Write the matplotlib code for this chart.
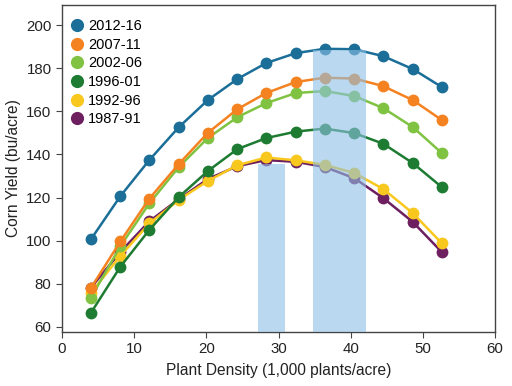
import matplotlib
matplotlib.use('Agg')
import matplotlib.pyplot as plt

plt.rcParams['font.family'] = ['Liberation Sans', 'DejaVu Sans']

# plant density (1,000 plants/acre)
density = [4.0, 8.1, 12.1, 16.2, 20.2, 24.3, 28.3, 32.4, 36.4, 40.5, 44.5, 48.6, 52.6]

periods = ['2012-16', '2007-11', '2002-06', '1996-01', '1992-96', '1987-91']
colors = ['#1b6e98', '#f58220', '#80c343', '#1e7b32', '#f9c81e', '#6d1f5f']

y_2012_16 = [100.6, 120.7, 137.4, 152.7, 165.2, 175.0, 182.4, 187.0, 189.0, 188.8, 185.6, 179.6, 171.3]
y_2007_11 = [78.0, 99.7, 119.5, 135.6, 150.0, 161.0, 168.5, 173.6, 175.6, 175.2, 171.7, 165.2, 156.0]
y_2002_06 = [73.5, 97.5, 117.3, 134.2, 147.6, 157.3, 163.8, 168.5, 169.4, 167.1, 161.5, 152.7, 140.7]
y_1996_01 = [66.5, 88.0, 105.0, 120.3, 132.3, 142.5, 147.6, 150.6, 152.0, 149.9, 145.0, 136.0, 124.9]
y_1992_96 = [75.8, 93.0, 108.0, 119.0, 127.7, 135.0, 138.6, 137.3, 135.2, 131.4, 124.0, 112.8, 98.9]
y_1987_91 = [78.2, 94.8, 109.0, 119.3, 128.6, 134.6, 137.4, 136.6, 134.2, 129.0, 119.8, 108.7, 94.8]

series = [y_2012_16, y_2007_11, y_2002_06, y_1996_01, y_1992_96, y_1987_91]

# shaded optimum ranges (start, end, top)
band_start = [27.1, 34.8]
band_end = [30.9, 42.1]
band_top = [135.5, 188.5]

YMIN, YMAX = 57.7, 209.3

fig = plt.figure(figsize=(5.12, 3.86), dpi=100)
ax = fig.add_axes([0.121, 0.14, 0.846, 0.847])

# draw oldest first so the newer series sit on top
for name, col, ys in reversed(list(zip(periods, colors, series))):
    ax.plot(density, ys, color=col, lw=1.8, marker='o', ms=8.5,
            markeredgewidth=0, label=name, zorder=3)

for s, e, t in zip(band_start, band_end, band_top):
    ax.bar((s + e) / 2, t - YMIN, width=e - s, bottom=YMIN,
           color='#8dc0e6', alpha=0.6, lw=0, zorder=4)

ax.set_xlim(0, 60)
ax.set_ylim(YMIN, YMAX)
ax.set_xticks([0, 10, 20, 30, 40, 50, 60])
ax.set_yticks([60, 80, 100, 120, 140, 160, 180, 200])
ax.tick_params(labelsize=10.8, length=4, color='#444444', labelcolor='#222222')
for sp in ax.spines.values():
    sp.set_color('#444444')
    sp.set_linewidth(1.0)

ax.set_xlabel('Plant Density (1,000 plants/acre)', fontsize=11.2, color='#222222', labelpad=5)
ax.set_ylabel('Corn Yield (bu/acre)', fontsize=11.2, color='#222222', labelpad=4)

handles, labels = ax.get_legend_handles_labels()
handles = handles[::-1]
labels = labels[::-1]
leg = ax.legend(handles, labels, loc='upper left', frameon=False, fontsize=10.5,
                handlelength=0.6, handletextpad=0.45, labelspacing=0.32,
                borderaxespad=0.0, bbox_to_anchor=(0.012, 0.975))
for h in leg.legend_handles:
    h.set_linestyle('none')
    h.set_markersize(9.5)

fig.savefig('out.png', dpi=100)
